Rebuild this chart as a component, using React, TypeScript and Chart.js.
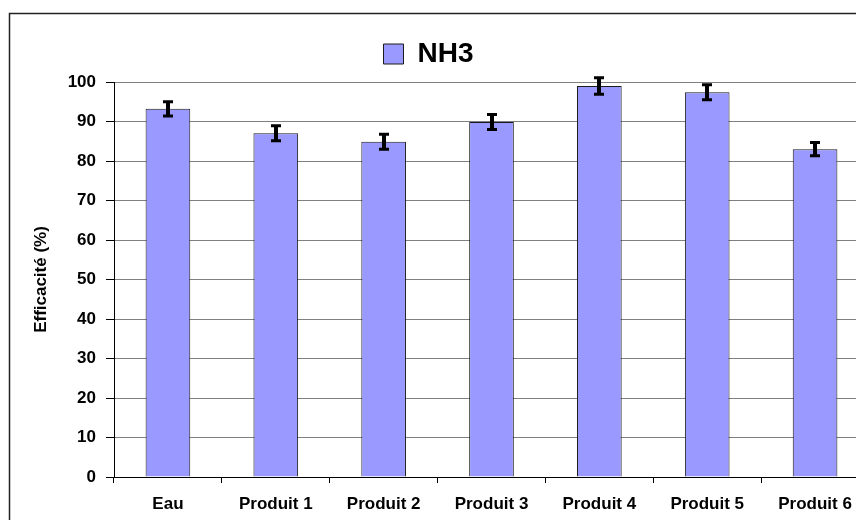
import React, { useEffect, useRef } from 'react';
import { Chart, registerables } from 'chart.js';

Chart.register(...registerables);

const categories = ['Eau', 'Produit 1', 'Produit 2', 'Produit 3', 'Produit 4', 'Produit 5', 'Produit 6'];
const efficacite = [93.2, 87.0, 84.9, 89.9, 99.0, 97.4, 83.0];
const errors = [1.8, 1.9, 1.9, 1.9, 2.1, 1.9, 1.7];
const seriesLabel = 'NH3';
const yTitle = 'Efficacité (%)';
const yMin = 0;
const yMax = 100;
const yStep = 10;

const FONT = "'Liberation Sans', Arial, Helvetica, sans-serif";

const framePlugin = {
  id: 'frame',
  beforeDraw(chart: any) {
    const ctx = chart.ctx;
    ctx.save();
    ctx.fillStyle = '#ffffff';
    ctx.fillRect(0, 0, chart.width, chart.height);
    ctx.restore();
  },
  afterDraw(chart: any) {
    const ctx = chart.ctx;
    ctx.save();
    ctx.strokeStyle = '#222';
    ctx.lineWidth = 1.5;
    ctx.strokeRect(9.5, 13.5, chart.width + 50, chart.height + 50);
    ctx.restore();
  },
};

const legendNudge = {
  id: 'legendNudge',
  afterLayout(chart: any) {
    const lg = chart.legend;
    if (!lg) return;
    const dx = -6;
    const dy = -4;
    lg.left += dx;
    lg.right += dx;
    lg.top += dy;
    lg.bottom += dy;
  },
};

const errorBarPlugin = {
  id: 'errorBars',
  afterDatasetsDraw(chart: any) {
    const meta = chart.getDatasetMeta(0);
    const y = chart.scales.y;
    const ctx = chart.ctx;
    ctx.save();
    ctx.strokeStyle = '#000';
    ctx.lineCap = 'butt';
    meta.data.forEach((bar: any, i: number) => {
      const x = Math.round(bar.x);
      const top = y.getPixelForValue(efficacite[i] + errors[i]);
      const bot = y.getPixelForValue(efficacite[i] - errors[i]);
      ctx.lineWidth = 4;
      ctx.beginPath();
      ctx.moveTo(x, top);
      ctx.lineTo(x, bot);
      ctx.stroke();
      ctx.lineWidth = 3;
      ctx.beginPath();
      ctx.moveTo(x - 5, top);
      ctx.lineTo(x + 5, top);
      ctx.moveTo(x - 5, bot);
      ctx.lineTo(x + 5, bot);
      ctx.stroke();
    });
    ctx.restore();
  },
};

export default function App() {
  const ref = useRef<HTMLCanvasElement | null>(null);

  useEffect(() => {
    if (!ref.current) return;
    Chart.defaults.font.family = FONT;
    Chart.defaults.color = '#000';
    const chart = new Chart(ref.current, {
      type: 'bar',
      data: {
        labels: categories,
        datasets: [
          {
            label: seriesLabel,
            data: efficacite,
            backgroundColor: '#9999FF',
            borderColor: '#1a1a1a',
            borderWidth: 1,
            barPercentage: 0.414,
            categoryPercentage: 1,
          },
        ],
      },
      options: {
        animation: false,
        responsive: false,
        maintainAspectRatio: false,
        devicePixelRatio: 1,
        layout: { padding: { top: 34, left: 0, right: 11, bottom: 0 } },
        plugins: {
          legend: {
            display: true,
            position: 'top',
            labels: {
              boxWidth: 20,
              boxHeight: 20,
              padding: 10,
              color: '#000',
              font: { size: 28, weight: 'bold', family: FONT },
            },
          },
          tooltip: { enabled: false },
        },
        scales: {
          x: {
            type: 'category',
            offset: true,
            grid: {
              display: true,
              drawOnChartArea: false,
              offset: true,
              drawTicks: true,
              tickLength: 6,
              tickColor: '#000',
              color: '#000',
            },
            border: { display: true, color: '#000', width: 1 },
            ticks: {
              padding: 11,
              color: '#000',
              maxRotation: 0,
              autoSkip: false,
              font: { size: 17, weight: 'bold', family: FONT },
            },
            afterFit(scale: any) {
              scale.height = 43;
            },
          },
          y: {
            min: yMin,
            max: yMax,
            grid: {
              color: '#808080',
              lineWidth: 1,
              drawTicks: true,
              tickLength: 8,
              tickColor: '#000',
            },
            border: { display: true, color: '#000', width: 1 },
            ticks: {
              stepSize: yStep,
              padding: 10,
              color: '#000',
              font: { size: 17, weight: 'bold', family: FONT },
            },
            title: {
              display: true,
              text: yTitle,
              color: '#000',
              padding: { top: 31, bottom: 0 },
              font: { size: 17, weight: 'bold', family: FONT },
            },
            afterFit(scale: any) {
              scale.width = 114;
            },
          },
        },
      },
      plugins: [framePlugin, legendNudge, errorBarPlugin],
    } as any);
    return () => chart.destroy();
  }, []);

  return (
    <div
      style={{
        position: 'fixed',
        left: 0,
        top: 0,
        width: 856,
        height: 520,
        overflow: 'hidden',
        background: '#fff',
      }}
    >
      <canvas ref={ref} width={880} height={520} style={{ width: 880, height: 520, display: 'block' }} />
    </div>
  );
}
